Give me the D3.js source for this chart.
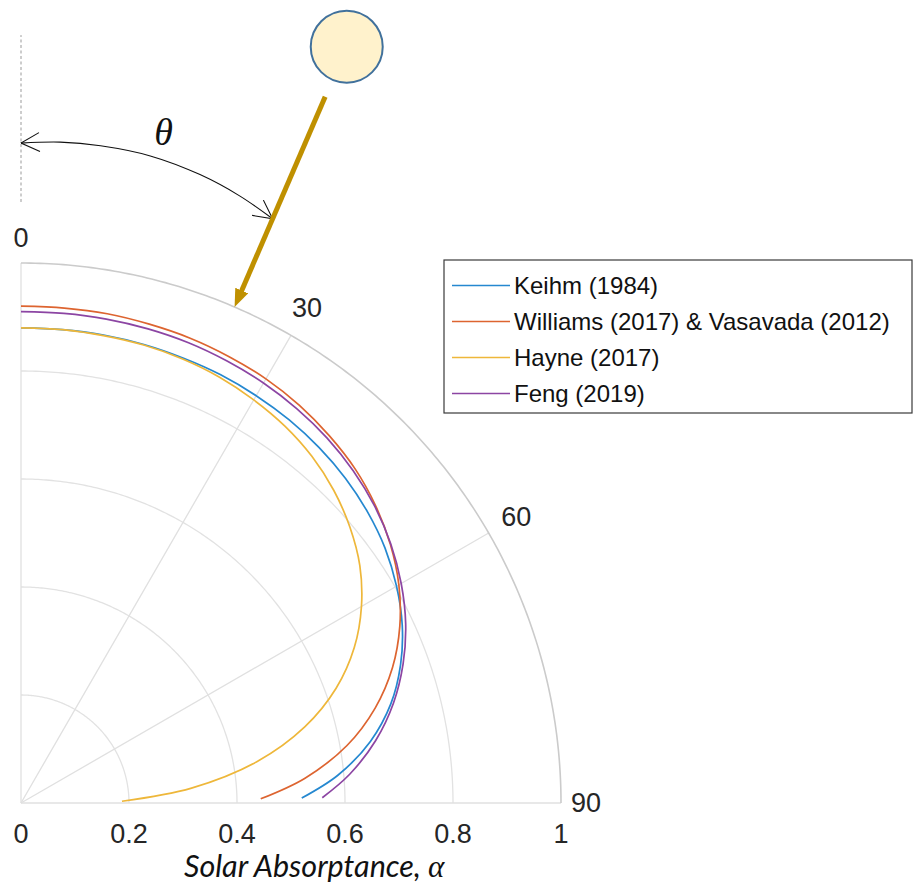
<!DOCTYPE html>
<html>
<head>
<meta charset="utf-8">
<script src="https://cdn.jsdelivr.net/npm/d3@7"></script>
<style>
  html, body { margin: 0; padding: 0; background: #fff; overflow: hidden; }
  svg { display: block; }
</style>
</head>
<body>
<svg id="chart" width="914" height="890"></svg>
<script>
// Incidence angle (degrees from the surface normal)
const thetaDeg = [0, 5, 10, 15, 20, 25, 30, 35, 40, 45, 50, 55, 60, 65, 70, 75, 80, 85, 89];

// Solar absorptance vs incidence angle for each model
const keihm            = [0.880, 0.880, 0.880, 0.879, 0.877, 0.875, 0.871, 0.866, 0.859, 0.850, 0.838, 0.823, 0.803, 0.779, 0.748, 0.709, 0.657, 0.589, 0.520];
const williamsVasavada = [0.920, 0.920, 0.920, 0.918, 0.916, 0.912, 0.907, 0.899, 0.888, 0.875, 0.857, 0.835, 0.808, 0.774, 0.732, 0.679, 0.613, 0.528, 0.444];
const hayne            = [0.880, 0.880, 0.879, 0.878, 0.875, 0.870, 0.862, 0.852, 0.838, 0.819, 0.795, 0.766, 0.728, 0.681, 0.621, 0.544, 0.445, 0.317, 0.187];
const feng             = [0.910, 0.910, 0.910, 0.909, 0.907, 0.903, 0.898, 0.891, 0.882, 0.870, 0.855, 0.836, 0.813, 0.786, 0.753, 0.714, 0.667, 0.611, 0.558];

const seriesNames  = ["Keihm (1984)", "Williams (2017) & Vasavada (2012)", "Hayne (2017)", "Feng (2019)"];
const seriesColors = ["#2588d0", "#dd6430", "#eeb73a", "#8c45a3"];

// Polar axis ticks
const radialTicks       = [0, 0.2, 0.4, 0.6, 0.8, 1];
const radialTickLabels  = ["0", "0.2", "0.4", "0.6", "0.8", "1"];
const angleTicks        = [0, 30, 60, 90];
const angleTickLabels   = ["0", "30", "60", "90"];

// Sketch of the incoming sunlight (angle in degrees, distance in absorptance units)
const sunAngle = 23.3;
const sunDistance = 1.525;
const rayStart = 1.424;
const rayTip = 1.0;
const normalLine = [1.113, 1.422];
const thetaArc = [[0, 1.222], [3.4, 1.226], [6.9, 1.226], [11.3, 1.222], [15.9, 1.210], [19.8, 1.195], [23.3, 1.178]];
const thetaLabelPos = [12, 1.271];

// ---------------------------------------------------------------
const cx = 21, cy = 803, R = 540;
const textColor = "#262626";

const r = d3.scaleLinear().domain([0, 1]).range([0, R]);
const rad = d3.scaleLinear().domain([0, 360]).range([0, 2 * Math.PI]);
const polar = (deg, v) => [r(v) * Math.sin(rad(deg)), -r(v) * Math.cos(rad(deg))];
const polarPx = (deg, px) => [px * Math.sin(rad(deg)), -px * Math.cos(rad(deg))];

const svg = d3.select("#chart");
svg.append("rect").attr("width", 914).attr("height", 890).attr("fill", "#fff");

const defs = svg.append("defs");
defs.append("marker")
  .attr("id", "openArrow")
  .attr("viewBox", "0 0 20 20")
  .attr("markerUnits", "userSpaceOnUse")
  .attr("markerWidth", 20).attr("markerHeight", 20)
  .attr("refX", 19.5).attr("refY", 10)
  .attr("orient", "auto-start-reverse")
  .append("path")
  .attr("d", "M1,0.5 L19.5,10 L1,19.5")
  .attr("fill", "none").attr("stroke", "#111").attr("stroke-width", 1.1);

defs.append("marker")
  .attr("id", "goldHead")
  .attr("viewBox", "0 0 18 14")
  .attr("markerUnits", "userSpaceOnUse")
  .attr("markerWidth", 18).attr("markerHeight", 14)
  .attr("refX", 4).attr("refY", 7)
  .attr("orient", "auto")
  .append("path")
  .attr("d", "M0,0 L18,7 L0,14 Z")
  .attr("fill", "#bf9000");

const g = svg.append("g").attr("transform", `translate(${cx},${cy})`);

// Grid rings
const ringAngles = d3.range(0, 90.001, 0.5);
const ring = v => d3.lineRadial().angle(a => rad(a)).radius(() => r(v))(ringAngles);

g.selectAll("path.ring")
  .data(radialTicks.filter(v => v > 0 && v < 1))
  .join("path")
  .attr("class", "ring")
  .attr("d", ring)
  .attr("fill", "none")
  .attr("stroke", "#e2e2e2")
  .attr("stroke-width", 1.3);

// Spokes
g.selectAll("line.spoke")
  .data(angleTicks)
  .join("line")
  .attr("class", "spoke")
  .attr("x1", 0).attr("y1", 0)
  .attr("x2", d => polar(d, 1)[0])
  .attr("y2", d => polar(d, 1)[1])
  .attr("stroke", "#e0e0e0")
  .attr("stroke-width", 1.3);

// Outer boundary
g.append("path")
  .attr("d", ring(1))
  .attr("fill", "none")
  .attr("stroke", "#cbcbcb")
  .attr("stroke-width", 1.6);

// Angle tick labels
g.selectAll("text.atick")
  .data(angleTicks)
  .join("text")
  .attr("class", "atick")
  .attr("x", d => polarPx(d, R + 25 + 8 * Math.sin(2 * rad(d)))[0])
  .attr("y", d => polarPx(d, R + 25 + 8 * Math.sin(2 * rad(d)))[1])
  .attr("text-anchor", "middle")
  .attr("dominant-baseline", "central")
  .attr("font-family", "Liberation Sans, Arial, sans-serif")
  .attr("font-size", 27)
  .attr("fill", textColor)
  .text((d, i) => angleTickLabels[i]);

// Radial tick labels
g.selectAll("text.rtick")
  .data(radialTicks)
  .join("text")
  .attr("class", "rtick")
  .attr("x", d => r(d))
  .attr("y", 31)
  .attr("text-anchor", "middle")
  .attr("dominant-baseline", "central")
  .attr("font-family", "Liberation Sans, Arial, sans-serif")
  .attr("font-size", 27)
  .attr("fill", textColor)
  .text((d, i) => radialTickLabels[i]);

// Model curves
const series = [keihm, williamsVasavada, hayne, feng];
const curve = d3.lineRadial()
  .angle(d => rad(d[0]))
  .radius(d => r(d[1]))
  .curve(d3.curveCatmullRom);

g.selectAll("path.model")
  .data(series)
  .join("path")
  .attr("class", "model")
  .attr("d", s => curve(thetaDeg.map((t, i) => [t, s[i]])))
  .attr("fill", "none")
  .attr("stroke", (d, i) => seriesColors[i])
  .attr("stroke-width", 1.7);

// Surface normal (dashed)
g.append("line")
  .attr("x1", polar(0, normalLine[0])[0]).attr("y1", polar(0, normalLine[0])[1])
  .attr("x2", polar(0, normalLine[1])[0]).attr("y2", polar(0, normalLine[1])[1])
  .attr("stroke", "#9a9a9a")
  .attr("stroke-width", 1)
  .attr("stroke-dasharray", "3,2.5");

// Angle arc with open arrowheads
g.append("path")
  .attr("d", d3.lineRadial().angle(d => rad(d[0])).radius(d => r(d[1])).curve(d3.curveCatmullRom)(thetaArc))
  .attr("fill", "none")
  .attr("stroke", "#111")
  .attr("stroke-width", 1.1)
  .attr("marker-start", "url(#openArrow)")
  .attr("marker-end", "url(#openArrow)");

// theta symbol
g.append("text")
  .attr("x", polar(thetaLabelPos[0], thetaLabelPos[1])[0])
  .attr("y", polar(thetaLabelPos[0], thetaLabelPos[1])[1])
  .attr("text-anchor", "middle")
  .attr("dominant-baseline", "central")
  .attr("font-family", "Liberation Serif, Times New Roman, serif")
  .attr("font-style", "italic")
  .attr("font-size", 38)
  .attr("fill", "#111")
  .text("θ");

// Incoming ray
const headLen = 14;
const shaftEnd = rayTip + headLen / R;
g.append("line")
  .attr("x1", polar(sunAngle, rayStart)[0]).attr("y1", polar(sunAngle, rayStart)[1])
  .attr("x2", polar(sunAngle, shaftEnd)[0]).attr("y2", polar(sunAngle, shaftEnd)[1])
  .attr("stroke", "#bf9000")
  .attr("stroke-width", 5)
  .attr("marker-end", "url(#goldHead)");

// Sun
g.append("circle")
  .attr("cx", polar(sunAngle, sunDistance)[0])
  .attr("cy", polar(sunAngle, sunDistance)[1])
  .attr("r", 36)
  .attr("fill", "#fff2cc")
  .attr("stroke", "#41719c")
  .attr("stroke-width", 2);

// Legend
const legend = svg.append("g").attr("transform", "translate(444,260)");
legend.append("rect")
  .attr("width", 468).attr("height", 153)
  .attr("fill", "#fff")
  .attr("stroke", "#3a3a3a")
  .attr("stroke-width", 1.2);
const rows = legend.selectAll("g.row")
  .data(seriesNames)
  .join("g")
  .attr("class", "row")
  .attr("transform", (d, i) => `translate(0,${25.5 + i * 36})`);
rows.append("line")
  .attr("x1", 8).attr("x2", 66)
  .attr("stroke", (d, i) => seriesColors[i])
  .attr("stroke-width", 1.6);
rows.append("text")
  .attr("x", 70)
  .attr("dominant-baseline", "central")
  .attr("font-family", "Liberation Sans, Arial, sans-serif")
  .attr("font-size", 24)
  .attr("fill", "#111")
  .text(d => d);

// Radial axis title
const title = svg.append("text")
  .attr("x", 184)
  .attr("y", 877)
  .attr("fill", "#111");
const titleMain = title.append("tspan")
  .attr("font-family", "Lato, Open Sans, sans-serif")
  .attr("font-style", "italic")
  .attr("font-size", 28)
  .text("Solar Absorptance, ");
title.append("tspan")
  .attr("font-family", "Liberation Serif, Times New Roman, serif")
  .attr("font-style", "italic")
  .attr("font-size", 31)
  .text("α");
// fit the title text to its span under the axis
const w = titleMain.node().getComputedTextLength();
titleMain.attr("font-size", 28 * 244 / w);
</script>
</body>
</html>
